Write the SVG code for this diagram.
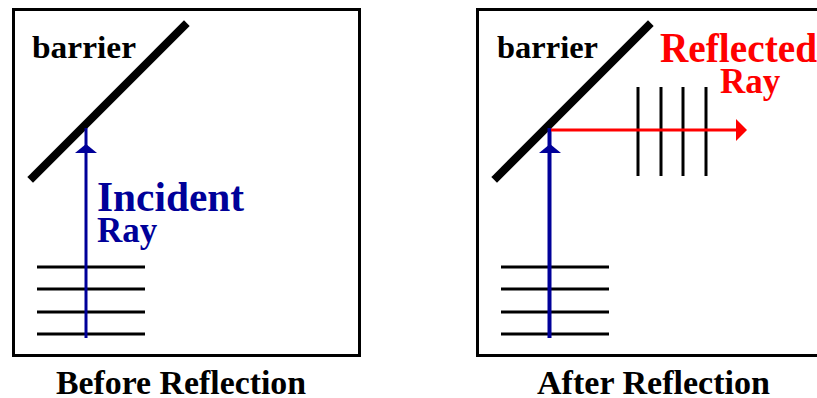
<svg xmlns="http://www.w3.org/2000/svg" width="817" height="398" viewBox="0 0 817 398">
<style>
.frame{fill:#fff;stroke:#000;stroke-width:3}
.barrier{stroke:#000;stroke-width:8;stroke-linecap:square}
.wave{stroke:#000;stroke-width:3}
.t{font-family:"Liberation Serif","Times New Roman",serif;font-weight:bold}
.blue{fill:#000099}
.red{fill:#ff0000}
</style>
<rect width="817" height="398" fill="#fff"/>
<g id="before">
  <rect class="frame" x="13.5" y="9.5" width="346" height="346"/>
  <g id="barrier-left">
    <line class="barrier" x1="33" y1="177" x2="184" y2="26"/>
    <text class="t" x="32" y="58" font-size="32" textLength="104" lengthAdjust="spacingAndGlyphs">barrier</text>
  </g>
  <g id="wavefronts-left">
    <line class="wave" x1="37" y1="267" x2="145" y2="267"/>
    <line class="wave" x1="37" y1="289" x2="145" y2="289"/>
    <line class="wave" x1="37" y1="312" x2="145" y2="312"/>
    <line class="wave" x1="37" y1="334" x2="145" y2="334"/>
  </g>
  <g id="incident-left">
    <line x1="86" y1="338" x2="86" y2="128" stroke="#000099" stroke-width="3"/>
    <polygon class="blue" points="75,153 97,153 86,144"/>
    <text class="t blue" x="97" y="211" font-size="42" textLength="147" lengthAdjust="spacingAndGlyphs">Incident</text>
    <text class="t blue" x="97" y="242" font-size="35">Ray</text>
  </g>
  <text id="caption-before" class="t" x="56" y="394" font-size="33" textLength="250" lengthAdjust="spacingAndGlyphs">Before Reflection</text>
</g>
<g id="after">
  <rect class="frame" x="477.5" y="9.5" width="346" height="346"/>
  <g id="barrier-right">
    <line class="barrier" x1="497" y1="177" x2="648" y2="26"/>
    <text class="t" x="497" y="58" font-size="32" textLength="101" lengthAdjust="spacingAndGlyphs">barrier</text>
  </g>
  <g id="wavefronts-right">
    <line class="wave" x1="501" y1="267" x2="609" y2="267"/>
    <line class="wave" x1="501" y1="289" x2="609" y2="289"/>
    <line class="wave" x1="501" y1="312" x2="609" y2="312"/>
    <line class="wave" x1="501" y1="334" x2="609" y2="334"/>
  </g>
  <g id="reflected-wavefronts">
    <line class="wave" x1="638" y1="87" x2="638" y2="176"/>
    <line class="wave" x1="661" y1="87" x2="661" y2="176"/>
    <line class="wave" x1="683" y1="87" x2="683" y2="176"/>
    <line class="wave" x1="706" y1="87" x2="706" y2="176"/>
  </g>
  <g id="incident-right">
    <line x1="549.5" y1="338" x2="549.5" y2="128" stroke="#000099" stroke-width="4"/>
    <polygon class="blue" points="539,153 561,153 550,144"/>
  </g>
  <g id="reflected-right">
    <line x1="551" y1="130" x2="740" y2="130" stroke="#ff0000" stroke-width="3"/>
    <polygon class="red" points="736,119 747,130 736,141"/>
    <text class="t red" x="660" y="62" font-size="42" textLength="157" lengthAdjust="spacingAndGlyphs">Reflected</text>
    <text class="t red" x="720" y="93" font-size="35">Ray</text>
  </g>
  <text id="caption-after" class="t" x="537" y="394" font-size="33" textLength="233" lengthAdjust="spacingAndGlyphs">After Reflection</text>
</g>
</svg>
